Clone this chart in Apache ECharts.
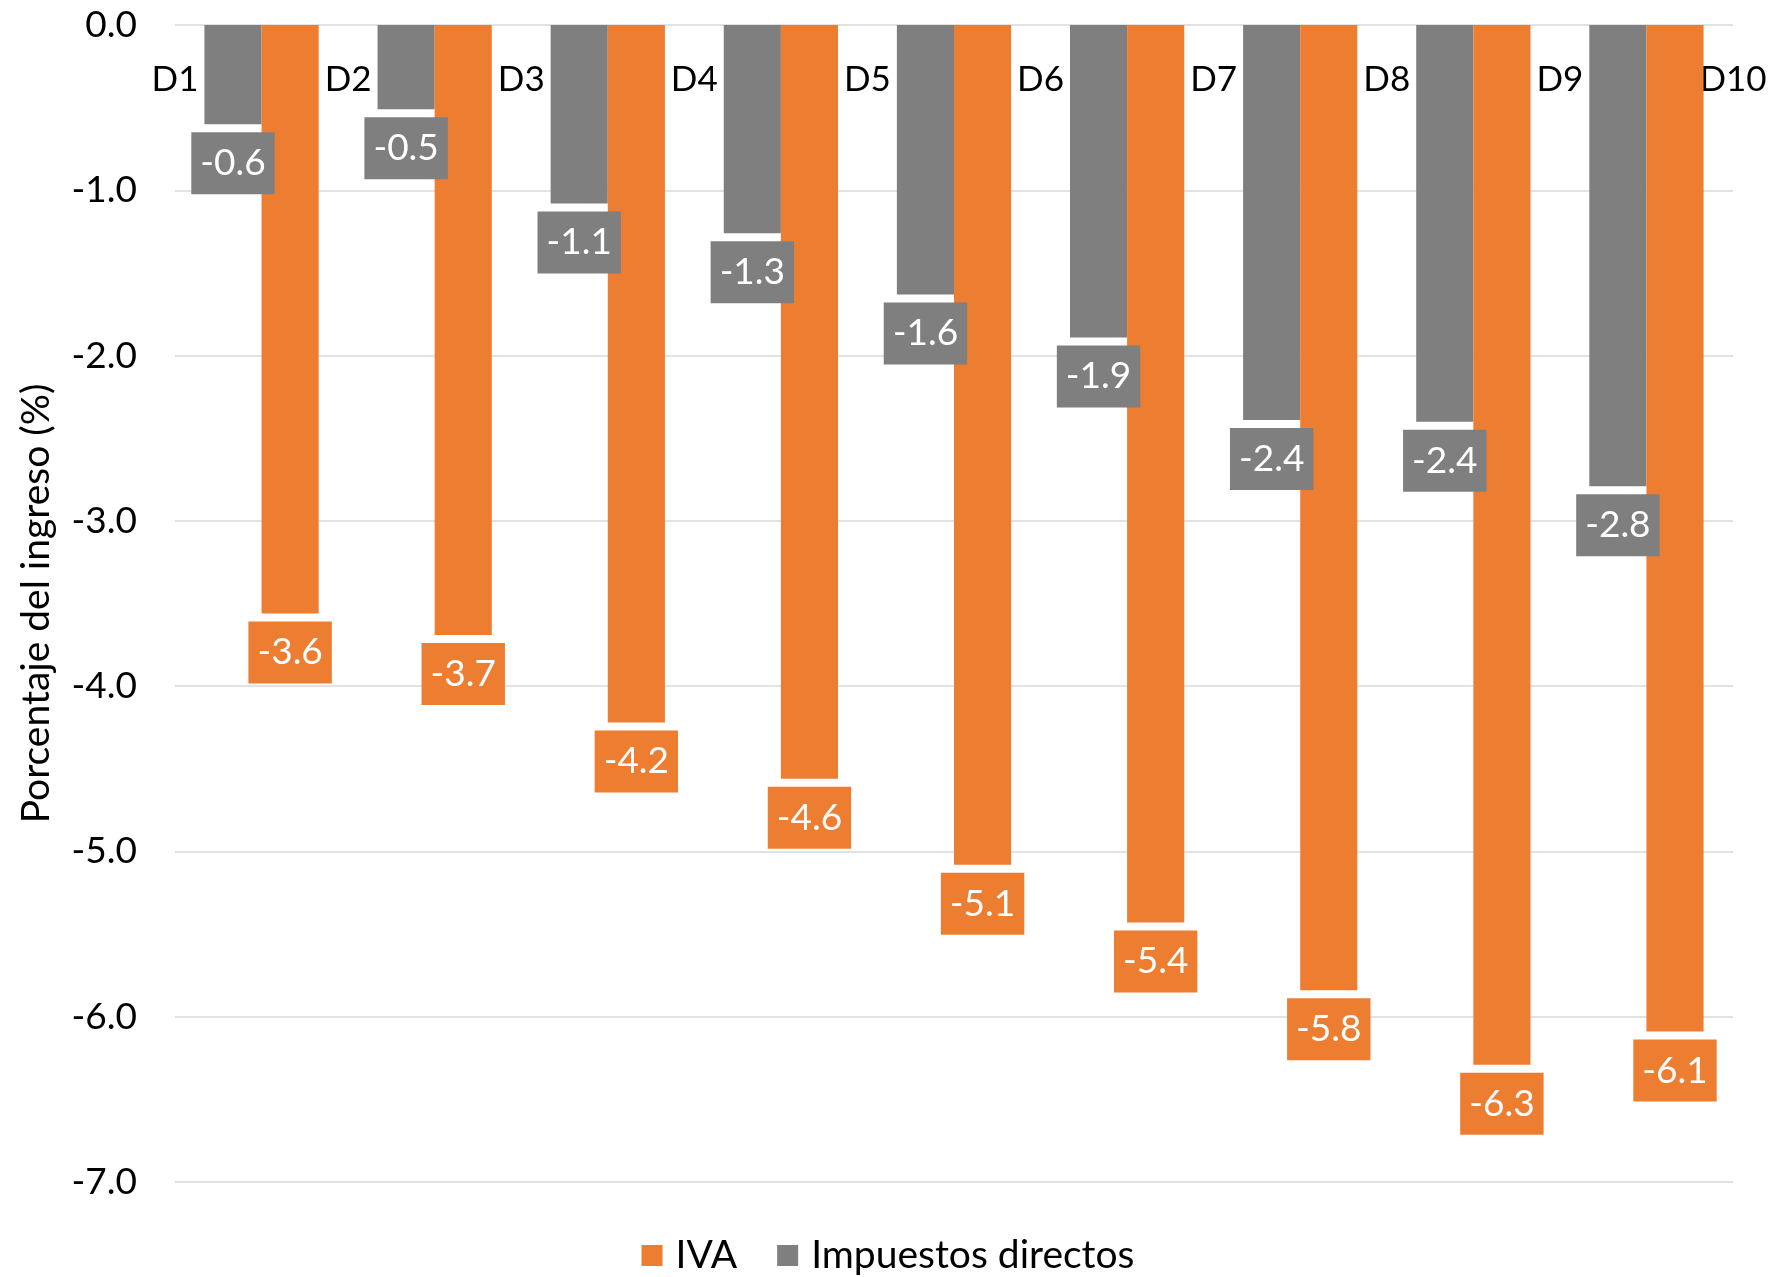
<!DOCTYPE html>
<html>
<head>
<meta charset="utf-8">
<script src="https://cdn.jsdelivr.net/npm/echarts@6/dist/echarts.min.js"></script>
<style>
html,body{margin:0;padding:0;background:#fff;}
#chart{width:1776px;height:1277px;}
</style>
</head>
<body>
<div id="chart"></div>
<script>
// Tick labels on the category axis (placed at band boundaries)
const decileLabels = ['D1','D2','D3','D4','D5','D6','D7','D8','D9','D10'];
// Bar slots (9 pairs of bars between the decile labels)
const barSlots = ['D1','D2','D3','D4','D5','D6','D7','D8','D9'];
// Series values (% of income)
const impuestosDirectos = [-0.60, -0.51, -1.08, -1.26, -1.63, -1.89, -2.39, -2.40, -2.79];
const iva = [-3.56, -3.69, -4.22, -4.56, -5.08, -5.43, -5.84, -6.29, -6.09];
// Y axis ticks
const yMin = -7, yMax = 0, yStep = 1;

const FONT = 'Lato';
const ORANGE = '#ED7D31';
const GRAY = '#7F7F7F';

function valueLabel(color){
  return {
    show: true,
    position: 'bottom',
    distance: 8,
    formatter: p => p.value.toFixed(1),
    color: '#fff',
    backgroundColor: color,
    fontFamily: FONT,
    fontSize: 37,
    lineHeight: 40,
    padding: [11, 9, 11, 9]
  };
}

const chart = echarts.init(document.getElementById('chart'));
chart.setOption({
  animation: false,
  backgroundColor: '#fff',
  grid: { left: 175, right: 43, top: 25, bottom: 95, containLabel: false },
  legend: {
    data: ['IVA', 'Impuestos directos'],
    bottom: -3,
    left: 'center',
    itemWidth: 21,
    itemHeight: 21,
    itemGap: 40,
    icon: 'rect',
    textStyle: { fontFamily: FONT, fontSize: 39, color: '#000', padding: [0, 0, 0, 8] }
  },
  xAxis: [
    {
      type: 'category',
      data: barSlots,
      boundaryGap: true,
      axisLine: { show: false },
      axisTick: { show: false },
      axisLabel: { show: false },
      splitLine: { show: false }
    },
    {
      type: 'category',
      data: decileLabels,
      boundaryGap: false,
      position: 'top',
      axisLine: { show: false },
      axisTick: { show: false },
      splitLine: { show: false },
      axisLabel: {
        inside: true,
        margin: 37,
        interval: 0,
        color: '#000',
        fontFamily: FONT,
        fontSize: 35
      }
    }
  ],
  yAxis: {
    type: 'value',
    min: yMin,
    max: yMax,
    interval: yStep,
    name: 'Porcentaje del ingreso (%)',
    nameLocation: 'middle',
    nameGap: 119,
    nameRotate: 90,
    nameTextStyle: { fontFamily: FONT, fontSize: 39, color: '#000' },
    axisLine: { show: false },
    axisTick: { show: false },
    axisLabel: {
      formatter: v => v.toFixed(1),
      margin: 38,
      color: '#000',
      fontFamily: FONT,
      fontSize: 37
    },
    splitLine: { show: true, lineStyle: { color: '#D9D9D9', width: 1.5 } }
  },
  series: [
    {
      name: 'Impuestos directos',
      type: 'bar',
      xAxisIndex: 0,
      data: impuestosDirectos,
      barGap: '0%',
      barCategoryGap: '34%',
      itemStyle: { color: GRAY },
      label: valueLabel(GRAY),
      z: 2
    },
    {
      name: 'IVA',
      type: 'bar',
      xAxisIndex: 0,
      data: iva,
      barGap: '0%',
      barCategoryGap: '34%',
      itemStyle: { color: ORANGE },
      label: valueLabel(ORANGE),
      z: 2
    }
  ]
});
</script>
</body>
</html>
